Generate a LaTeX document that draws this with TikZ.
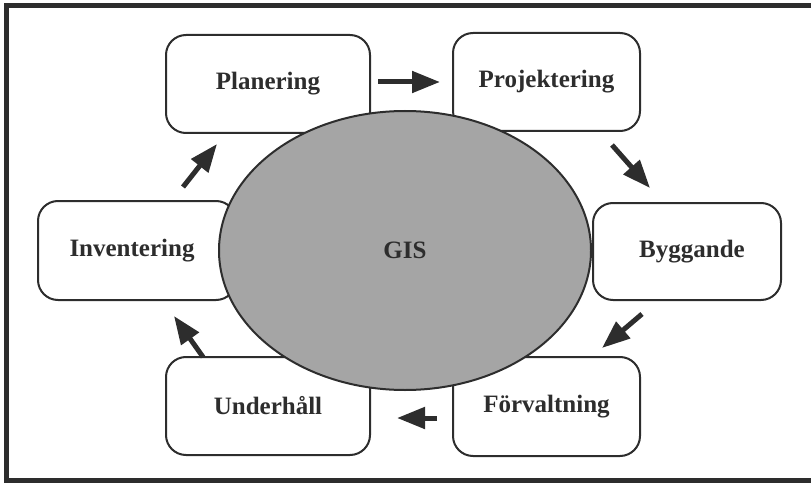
\documentclass[tikz,border=0pt]{standalone}
\usepackage{fontspec}
\setmainfont{Liberation Serif}
\usetikzlibrary{arrows.meta,shapes.geometric}
\definecolor{gisfill}{RGB}{165,165,165}
\definecolor{ink}{RGB}{45,45,45}
\begin{document}
\begin{tikzpicture}[x=1pt,y=-1pt,
  stage/.style={draw=ink,line width=2pt,rounded corners=20pt,fill=white,
    font=\fontsize{25}{29}\selectfont\bfseries,text=ink,inner sep=0pt},
  flow/.style={draw=ink,line width=5pt,
    -{Triangle[length=28pt,width=21pt]},color=ink},
  frameline/.style={line width=5pt,draw=ink}]
  \useasboundingbox (0,0) rectangle (811,484);
  % outer frame (open on the right)
  \draw[frameline] (811,6) -- (6,6) -- (6,480) -- (811,480);

  % process stages
  \node[stage,minimum width=204pt,minimum height=98pt] (plan) at (268,84) {Planering};
  \node[stage,minimum width=187pt,minimum height=98pt] (proj) at (546.5,82) {Projektering};
  \node[stage,minimum width=198pt,minimum height=99pt] (inv) at (137,250.5) {\hspace*{-10pt}Inventering};
  \node[stage,minimum width=188pt,minimum height=97pt] (bygg) at (687,251.5) {Byggande\hspace*{-10pt}};
  \node[stage,minimum width=204pt,minimum height=98pt] (under) at (268,406) {Underhåll};
  \node[stage,minimum width=187pt,minimum height=99pt] (forv) at (546.5,406.5) {Förvaltning};

  % central GIS ellipse
  \node[ellipse,draw=ink,line width=2pt,fill=gisfill,minimum width=372pt,
    minimum height=279pt,inner sep=0pt,font=\fontsize{25}{29}\selectfont\bfseries,
    text=ink] (gis) at (405,250.5) {GIS};

  % cycle arrows between stages
  \coordinate (a1s) at (378,82);  \coordinate (a1e) at (440,82);
  \coordinate (a2s) at (612,145); \coordinate (a2e) at (650,188);
  \coordinate (a3s) at (642,314); \coordinate (a3e) at (602,348);
  \coordinate (a4s) at (437,418); \coordinate (a4e) at (397,418);
  \coordinate (a5s) at (203,357); \coordinate (a5e) at (174,316);
  \coordinate (a6s) at (183,187); \coordinate (a6e) at (217,144);
  \draw[flow] (a1s) -- (a1e);
  \draw[flow] (a2s) -- (a2e);
  \draw[flow] (a3s) -- (a3e);
  \draw[flow] (a4s) -- (a4e);
  \draw[flow] (a5s) -- (a5e);
  \draw[flow] (a6s) -- (a6e);
\end{tikzpicture}
\end{document}
